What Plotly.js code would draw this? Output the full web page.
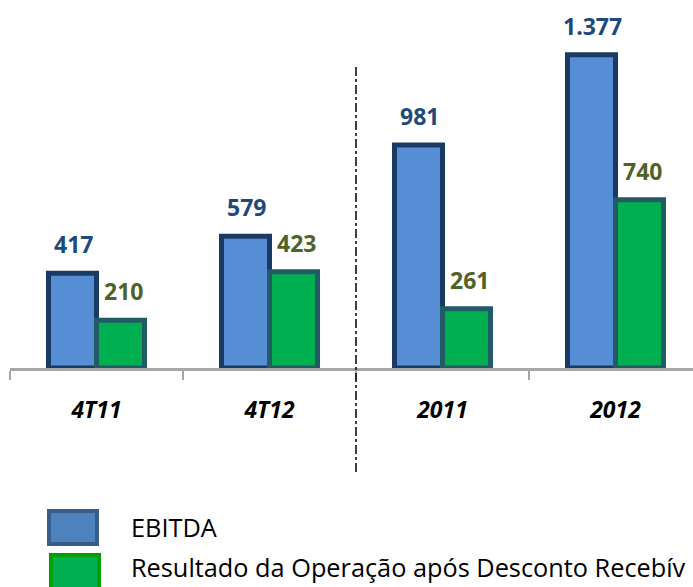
<!DOCTYPE html>
<html>
<head>
<meta charset="utf-8">
<script src="https://cdn.plot.ly/plotly-3.0.1.min.js"></script>
<style>html,body{margin:0;padding:0;background:#fff;}#chart{width:693px;height:587px;}</style>
</head>
<body>
<div id="chart"></div>
<script>
// ---- data ----
var categories = ['4T11', '4T12', '2011', '2012'];
var ebitda = [417, 579, 981, 1377];
var resultado = [210, 423, 261, 740];
var ebitdaLabels = ['417', '579', '981', '1.377'];
var resultadoLabels = ['210', '423', '261', '740'];
var seriesNames = ['EBITDA', 'Resultado da Operação após Desconto Recebív'];

var blueFill = '#558ED5', blueLine = '#1B3A63', blueText = '#1F497D';
var greenFill = '#00B050', greenLine = '#225B66', greenText = '#4F6228';

var traces = [
  {type: 'bar', x: categories, y: ebitda, name: seriesNames[0],
   marker: {color: blueFill, line: {color: blueLine, width: 5}}, hoverinfo: 'skip'},
  {type: 'bar', x: categories, y: resultado, name: seriesNames[1],
   marker: {color: greenFill, line: {color: greenLine, width: 5}}, hoverinfo: 'skip'}
];

var annotations = [];
categories.forEach(function (c, i) {
  // category index used as x so numeric-looking category names are not misread
  annotations.push({x: i, y: ebitda[i], xref: 'x', yref: 'y', text: ebitdaLabels[i],
    showarrow: false, xshift: -23, yshift: 29, yanchor: 'middle',
    font: {family: 'Open Sans', size: 23, weight: 'bold', color: blueText}});
  annotations.push({x: i, y: resultado[i], xref: 'x', yref: 'y', text: resultadoLabels[i],
    showarrow: false, xshift: 27, yshift: 29, yanchor: 'middle',
    font: {family: 'Open Sans', size: 23, weight: 'bold', color: greenText}});
});

// legend (custom)
function px2x(px) { return (px - 10) / 683; }
function py2y(py) { return (368 - py) / 368; }
annotations.push({xref: 'paper', yref: 'paper', x: px2x(129), y: py2y(527), xanchor: 'left', yanchor: 'middle',
  text: seriesNames[0], showarrow: false, font: {family: 'Open Sans', size: 25.3, color: '#000'}});
annotations.push({xref: 'paper', yref: 'paper', x: px2x(129), y: py2y(567), xanchor: 'left', yanchor: 'middle',
  text: seriesNames[1], showarrow: false, font: {family: 'Open Sans', size: 25.3, color: '#000'}});

var shapes = [
  {type: 'line', xref: 'paper', yref: 'paper', x0: px2x(356), x1: px2x(356), y0: py2y(67), y1: py2y(473),
   line: {color: '#000', width: 1.5, dash: 'dashdot'}},
  {type: 'rect', xref: 'paper', yref: 'paper', x0: px2x(49), x1: px2x(97), y0: py2y(511), y1: py2y(544),
   fillcolor: '#4F81BD', line: {color: '#385D8A', width: 4}},
  {type: 'rect', xref: 'paper', yref: 'paper', x0: px2x(51), x1: px2x(99), y0: py2y(555), y1: py2y(600),
   fillcolor: '#00B050', line: {color: '#00A000', width: 4}}
];

var layout = {
  width: 693, height: 587,
  margin: {l: 10, r: 0, t: 0, b: 219},
  paper_bgcolor: '#fff', plot_bgcolor: '#fff',
  showlegend: false,
  barmode: 'group', bargap: 0.445, bargroupgap: 0,
  xaxis: {
    type: 'category', range: [-0.5, 3.448], fixedrange: true,
    showline: true, linecolor: '#A6A6A6', linewidth: 2.5,
    ticks: 'outside', tickson: 'boundaries', ticklen: 9, tickwidth: 2.5, tickcolor: '#A6A6A6',
    ticklabelstandoff: 20,
    tickfont: {family: 'Open Sans', size: 23, weight: 'bold', style: 'italic', color: '#000'},
    showgrid: false, zeroline: false
  },
  yaxis: {
    range: [0, 1618], visible: false, showgrid: false, zeroline: false, fixedrange: true
  },
  annotations: annotations,
  shapes: shapes
};

Plotly.newPlot('chart', traces, layout, {staticPlot: true, displayModeBar: false});
</script>
</body>
</html>
